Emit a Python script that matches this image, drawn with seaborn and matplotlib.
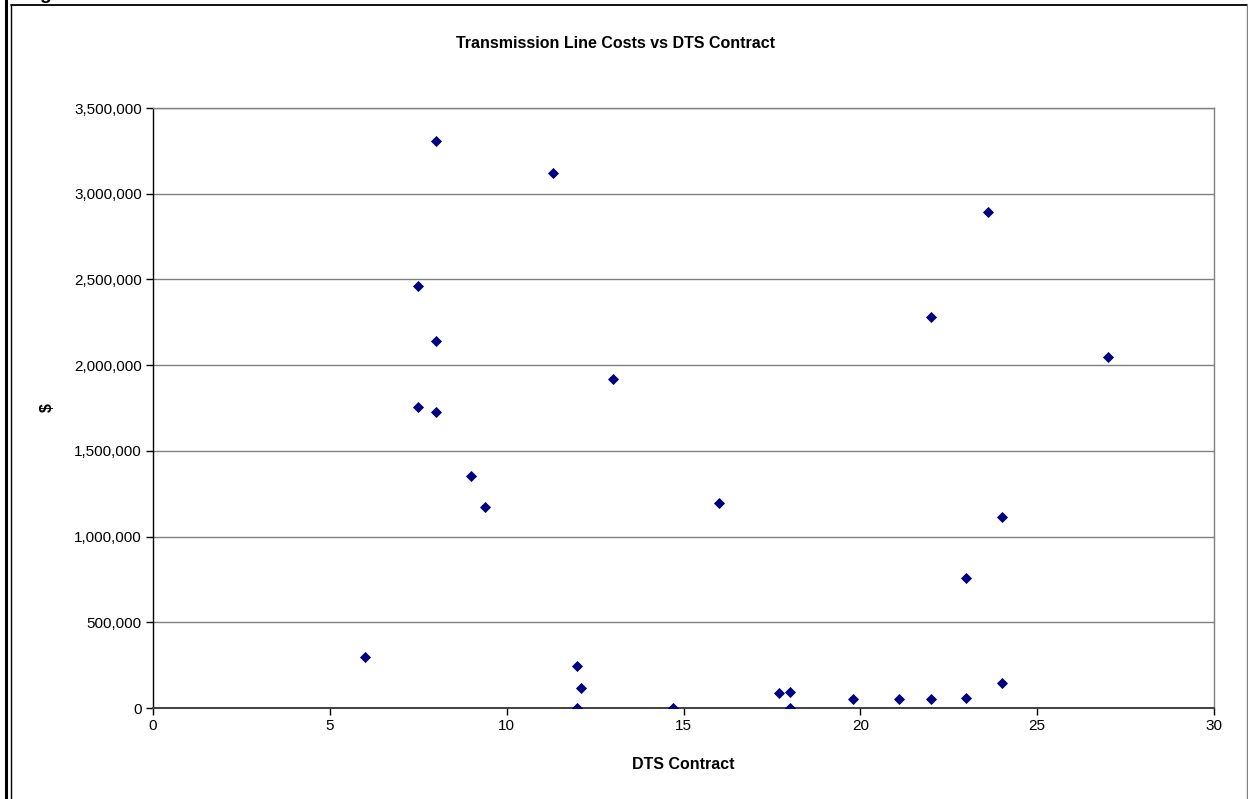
import matplotlib
matplotlib.use("Agg")
import matplotlib.pyplot as plt
import seaborn as sns
import pandas as pd
from matplotlib.ticker import FuncFormatter, MultipleLocator
from matplotlib.lines import Line2D

# datos
dts_contract = [6.0, 7.5, 7.5, 8.0, 8.0, 8.0, 9.0, 9.4, 11.3, 12.0, 12.0, 12.1,
                13.0, 14.7, 16.0, 17.7, 18.0, 18.0, 19.8, 21.1, 22.0, 22.0,
                23.0, 23.0, 23.6, 24.0, 24.0, 27.0]
costs = [300000, 1755000, 2463000, 3310000, 2143000, 1727000, 1355000, 1172000,
         3120000, 247000, 0, 117000, 1917000, 0, 1195000, 86000, 93000, 0,
         50000, 50000, 50000, 2281000, 57000, 757000, 2895000, 1112000, 144000,
         2047000]

df = pd.DataFrame({"DTS Contract": dts_contract, "$": costs})

sns.set_style("white")
plt.rcParams['font.family'] = ['Liberation Sans', 'DejaVu Sans']
plt.rcParams['text.color'] = 'black'
plt.rcParams['axes.labelcolor'] = 'black'
plt.rcParams['xtick.color'] = 'black'
plt.rcParams['ytick.color'] = 'black'

fig = plt.figure(figsize=(12.48, 7.99), dpi=100)
ax = fig.add_axes([153 / 1248, 91 / 799, 1061 / 1248, 600 / 799])

sns.scatterplot(data=df, x="DTS Contract", y="$", marker="D", color="#000080",
                s=32, linewidth=0, ax=ax, zorder=3)

ax.set_xlim(0, 30)
ax.set_ylim(0, 3500000)
ax.xaxis.set_major_locator(MultipleLocator(5))
ax.yaxis.set_major_locator(MultipleLocator(500000))
ax.yaxis.set_major_formatter(FuncFormatter(lambda v, p: f"{int(v):,}"))
ax.grid(True, axis="y", color="#808080", linewidth=1.0)
ax.set_axisbelow(True)

for side in ["top", "right"]:
    ax.spines[side].set_color("#808080")
    ax.spines[side].set_linewidth(1.0)
ax.spines["left"].set_color("black")
ax.spines["left"].set_linewidth(1.0)
ax.spines["bottom"].set_color("#404040")
ax.spines["bottom"].set_linewidth(1.4)

ax.tick_params(axis="both", direction="out", length=5, width=1, color="black",
               labelsize=11, pad=3, left=True, bottom=True)

ax.set_xlabel("DTS Contract", fontsize=11.5, fontweight="bold")
ax.xaxis.set_label_coords(0.5, -49 / 600)
ax.set_ylabel("$", fontsize=11.5, fontweight="bold")
ax.yaxis.set_label_coords(-98 / 1061, 0.5)
fig.text(615 / 1248, 1 - 44 / 799, "Transmission Line Costs vs DTS Contract",
         ha="center", va="center", fontsize=11.5, fontweight="bold")

# marco exterior
W, H = 1248, 799
fig.add_artist(Line2D([6 / W, 6 / W], [0, 1], color="black", linewidth=2.2,
                      transform=fig.transFigure))
fig.add_artist(Line2D([10.5 / W, 10.5 / W], [0, 1 - 4.5 / H], color="black",
                      linewidth=1.0, transform=fig.transFigure))
fig.add_artist(Line2D([10.5 / W, 1246.5 / W], [1 - 4.5 / H, 1 - 4.5 / H],
                      color="black", linewidth=1.3, transform=fig.transFigure))
fig.add_artist(Line2D([1246.5 / W, 1246.5 / W], [0, 1 - 4.5 / H],
                      color="#808080", linewidth=1.0, transform=fig.transFigure))
fig.text(45 / W, 1 + 1 / H, "g", ha="center", va="baseline", fontsize=14,
         fontweight="bold")

plt.savefig("out.png", dpi=100)
